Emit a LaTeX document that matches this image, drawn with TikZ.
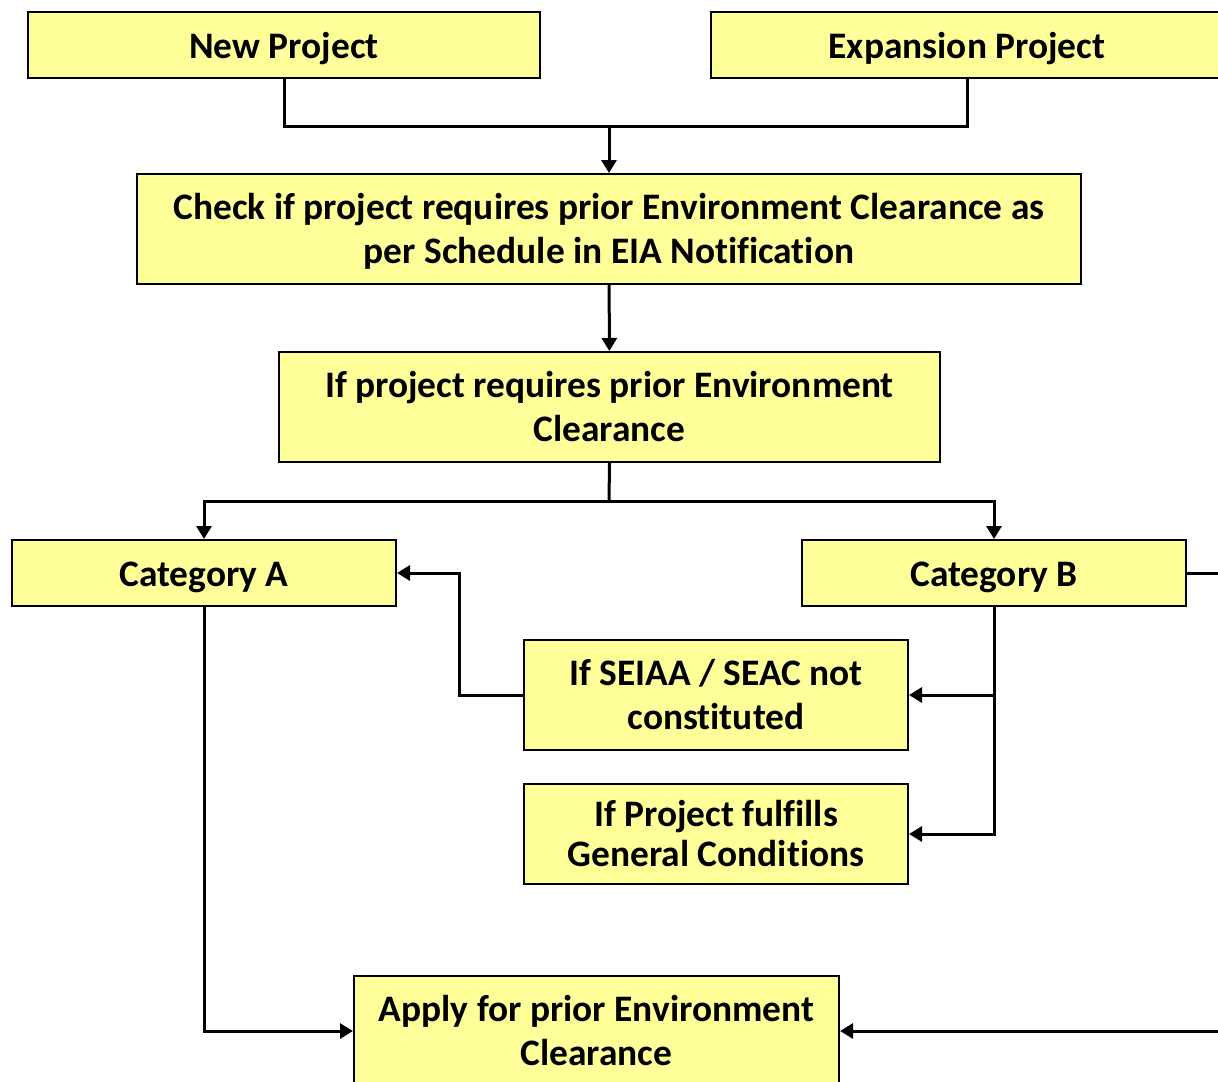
\documentclass[tikz,border=0pt]{standalone}
\usepackage{fontspec}
\setmainfont[Ligatures=NoCommon]{Carlito}
\usetikzlibrary{arrows.meta}
\definecolor{boxyellow}{RGB}{255,255,153}

\begin{document}
\begin{tikzpicture}[x=0.5pt,y=-0.5pt,
    box/.style={draw=black,line width=1pt,fill=boxyellow,align=center,
      font=\fontsize{18.7}{22}\selectfont\bfseries,inner sep=0pt,
      execute at begin node={\rule{0pt}{17pt}},
      execute at end node={\rule[-3pt]{0pt}{0pt}}},
    tallbox/.style={box,minimum height=55pt,text depth=1pt},
    link/.style={line width=1.5pt},
    arr/.style={link,-{Triangle[length=6.5pt,width=7.5pt]}}]
        \useasboundingbox (0,0) rectangle (1218,1081);

        % Project types
        \node[box,minimum width=256pt,minimum height=33pt] (new) at (284,45) {New Project};
        \node[box,minimum width=256pt,minimum height=33pt] (exp) at (967,45) {Expansion Project};

        \node[tallbox,minimum width=472pt] (check) at (609,229)
            {Check if project requires prior Environment Clearance as\\per Schedule in EIA Notification};
        \node[tallbox,minimum width=330.5pt] (req) at (609.5,407)
            {If project requires prior Environment\\Clearance};

        % Categories
        \node[box,minimum width=192pt,minimum height=33pt] (catA) at (204,573) {Category A};
        \node[box,minimum width=192pt,minimum height=33pt] (catB) at (994,573) {Category B};
        \node[tallbox,minimum width=192pt] (seiaa) at (716,695)
            {If SEIAA / SEAC not\\constituted};
        \node[tallbox,minimum width=192pt,minimum height=50pt] (gen) at (716,834)
            {If Project fulfills\\[-2pt]General Conditions};

        \node[tallbox,minimum width=242.5pt] (apply) at (596.5,1031)
            {Apply for prior Environment\\Clearance};

        % Connectors
        \coordinate (join) at (609,126);
        \draw[link] (new.south) |- (join) -| (exp.south);
        \draw[arr] (join) -- (check.north);
        \draw[arr] (check) -- (req);

        \coordinate (split) at (609,501);
        \draw[link] (req.south) -- (split);
        \draw[arr] (split) -| (catA.north);
        \draw[arr] (split) -| (catB.north);

        \draw[arr] (catA.south) |- (apply.west);
        \draw[arr] (catB.south) |- (gen.east);
        \draw[arr] (catB.south |- seiaa.east) -- (seiaa.east);
        \draw[arr] (seiaa.west) -- ++(-64,0) |- (catA.east);

        % Lines leaving the picture
        \coordinate (outB) at (1230,573);
        \coordinate (outA) at (1230,1031);
        \draw[link] (catB.east) -- (outB);
        \draw[arr] (outA) -- (apply.east);
    \end{tikzpicture}
\end{document}
